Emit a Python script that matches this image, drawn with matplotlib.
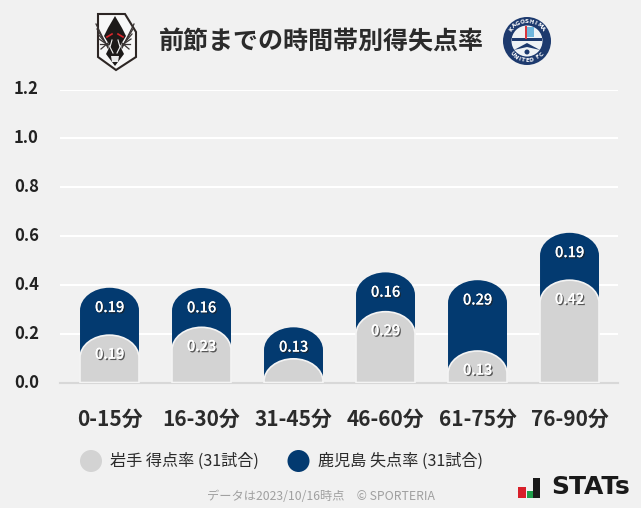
import math
import matplotlib
matplotlib.use('Agg')
import matplotlib.pyplot as plt
import matplotlib.patheffects as pe
from matplotlib.path import Path
from matplotlib.patches import PathPatch, Polygon, Circle, Rectangle

plt.rcParams['font.family'] = ['Noto Sans CJK JP', 'DejaVu Sans']

categories = ['0-15分', '16-30分', '31-45分', '46-60分', '61-75分', '76-90分']
iwate = [0.194, 0.226, 0.097, 0.29, 0.129, 0.419]
kagoshima = [0.194, 0.161, 0.129, 0.161, 0.29, 0.194]
iwate_labels = ['0.19', '0.23', '', '0.29', '0.13', '0.42']
kagoshima_labels = ['0.19', '0.16', '0.13', '0.16', '0.29', '0.19']
yticks = [0.0, 0.2, 0.4, 0.6, 0.8, 1.0, 1.2]

bg = '#f1f1f1'
navy = '#033a70'
gray = '#d3d3d3'
W, H = 641, 508


def round_bar(x, top, width=0.641, ry=0.093):
    # column from 0 to top, elliptical cap
    l, r = x - width / 2, x + width / 2
    k = 0.5523
    rx = width / 2
    shoulder = max(top - ry, 0)
    ry = top - shoulder
    verts = [(l, 0), (l, shoulder),
             (l, shoulder + k * ry), (x - k * rx, top), (x, top),
             (x + k * rx, top), (r, shoulder + k * ry), (r, shoulder),
             (r, 0), (l, 0)]
    codes = [Path.MOVETO, Path.LINETO,
             Path.CURVE4, Path.CURVE4, Path.CURVE4,
             Path.CURVE4, Path.CURVE4, Path.CURVE4,
             Path.LINETO, Path.CLOSEPOLY]
    return Path(verts, codes)


fig = plt.figure(figsize=(W / 100, H / 100), dpi=100, facecolor=bg)

# page axes in pixels, for title, legend, logos
page = fig.add_axes([0, 0, 1, 1])
page.set_xlim(0, W)
page.set_ylim(H, 0)
page.axis('off')

ax = fig.add_axes([60 / W, 1 - 382.5 / H, 558 / W, 293 / H], facecolor='none')
ax.set_xlim(-0.538, 5.527)
ax.set_ylim(0, 1.2)
for s in ax.spines.values():
    s.set_visible(False)
ax.spines['bottom'].set_visible(True)
ax.spines['bottom'].set_color('#d8d8d8')
ax.spines['bottom'].set_linewidth(1.5)
ax.set_yticks(yticks[1:], [])
ax.yaxis.grid(True, color='white', linewidth=1.5)
ax.set_axisbelow(True)
ax.tick_params(length=0)
ax.set_xticks(range(len(categories)))
ax.set_xticklabels(categories, fontsize=15, fontweight='bold', color='#2b2b2b')
ax.tick_params(axis='x', pad=19)

for t in yticks:
    page.text(26.5, 382.5 - t / 1.2 * 293, f'{t:.1f}', ha='center', va='center',
              fontsize=12, fontweight='bold', color='#222222')

shadow = [pe.withSimplePatchShadow(offset=(1, -1), shadow_rgbFace='#222222', alpha=0.7), pe.Normal()]
for i in range(len(categories)):
    total = iwate[i] + kagoshima[i]
    ax.add_patch(PathPatch(round_bar(i, total), facecolor=navy, edgecolor='none', zorder=3))
    ax.add_patch(PathPatch(round_bar(i, iwate[i]), facecolor=gray, edgecolor='#f4f4f4', linewidth=1.2, zorder=4))
    ax.text(i, total - 0.083, kagoshima_labels[i], ha='center', va='center', fontsize=10.5,
            fontweight='medium', color='white', zorder=5, path_effects=shadow)
    if iwate_labels[i]:
        ax.text(i, iwate[i] - 0.08, iwate_labels[i], ha='center', va='center', fontsize=10.5,
                fontweight='medium', color='white', zorder=5, path_effects=shadow)

page.text(321, 42, '前節までの時間帯別得失点率', ha='center', va='center', fontsize=18,
          fontweight='bold', color='#2b2b2b')

# legend
page.add_patch(Circle((91, 461), 11, facecolor=gray, edgecolor='none'))
page.text(110, 461, '岩手 得点率 (31試合)', ha='left', va='center', fontsize=11.6, color='#2b2b2b')
page.add_patch(Circle((298.5, 461), 11, facecolor=navy, edgecolor='none'))
page.text(318, 461, '鹿児島 失点率 (31試合)', ha='left', va='center', fontsize=11.6, color='#2b2b2b')

page.text(320.5, 497, 'データは2023/10/16時点　© SPORTERIA', ha='center', va='center', fontsize=8.8, color='#a0a0a0')

# iwate crest
page.add_patch(Polygon([(98, 14), (125, 14), (136, 32), (136, 57), (116, 70), (98, 57)],
                       closed=True, facecolor='#f7f7f7', edgecolor='#2d2624', linewidth=1.5))
for sign in (-1, 1):
    for n in range(6):
        page.plot([115 + sign * 7, 115 + sign * (19 - n * 1.0)], [48 - n, 24 + n * 5],
                  color='#3a3534', linewidth=0.9)
page.add_patch(Polygon([(115, 16), (122, 28), (126, 36), (120, 46), (124, 54), (115, 66), (106, 54), (110, 46), (104, 36), (108, 28)],
                       closed=True, facecolor='#1d1a19', edgecolor='none'))
page.plot([107, 112], [37, 34], color='#d9262b', linewidth=1.2)
page.plot([123, 118], [37, 34], color='#d9262b', linewidth=1.2)
page.plot([112, 110, 113], [40, 47, 53], color='#f4f4f4', linewidth=0.8)
page.plot([118, 120, 117], [40, 47, 53], color='#f4f4f4', linewidth=0.8)
page.add_patch(Polygon([(111, 56), (119, 56), (118, 62), (112, 62)], closed=True, facecolor='#e8e8e8', edgecolor='none'))

# kagoshima crest
page.add_patch(Circle((527, 41), 24, facecolor='#1d3a6e', edgecolor='none'))
page.add_patch(Circle((527, 41), 15.5, facecolor='#eef2f5', edgecolor='none'))
page.add_patch(Rectangle((512, 38), 30, 3, facecolor='#1d3a6e', edgecolor='none'))
page.add_patch(Rectangle((525, 26), 2, 13, facecolor='#d9363e', edgecolor='none'))
page.add_patch(Rectangle((527, 27), 7, 10, facecolor='#6fb6dc', edgecolor='none'))
page.add_patch(Polygon([(514, 50), (527, 43), (540, 50), (527, 47)], closed=True, facecolor='#1d3a6e', edgecolor='none'))
page.add_patch(Circle((527, 52), 2.5, facecolor='#1d3a6e', edgecolor='none'))
# ring lettering
for word, start, step, rad, bottom in [('KAGOSHIMA', -52, 13, 19.5, False), ('UNITED FC', -48, 12, 19.5, True)]:
    for n, ch in enumerate(word):
        ang = math.radians(start + n * step)
        cx = 527 + rad * math.sin(ang)
        cy = 41 + (rad * math.cos(ang) if bottom else -rad * math.cos(ang))
        rot = math.degrees(ang) if bottom else -math.degrees(ang)
        page.text(cx, cy, ch, ha='center', va='center', fontsize=4, fontweight='bold',
                  color='white', rotation=rot, family='DejaVu Sans')

# stats logo
page.add_patch(Rectangle((518, 487), 8, 10.5, facecolor='#d8202a', edgecolor='none'))
page.add_patch(Rectangle((526.5, 491), 6, 6.5, facecolor='#1f9e4b', edgecolor='none'))
page.add_patch(Rectangle((533, 477.5), 7, 20, facecolor='#1a1a1a', edgecolor='none'))
page.text(591, 487.5, 'STATs', ha='center', va='center', fontsize=18, fontweight='bold',
          family='DejaVu Sans', color='#1a1a1a')

fig.savefig('out.png', dpi=100, facecolor=bg)
